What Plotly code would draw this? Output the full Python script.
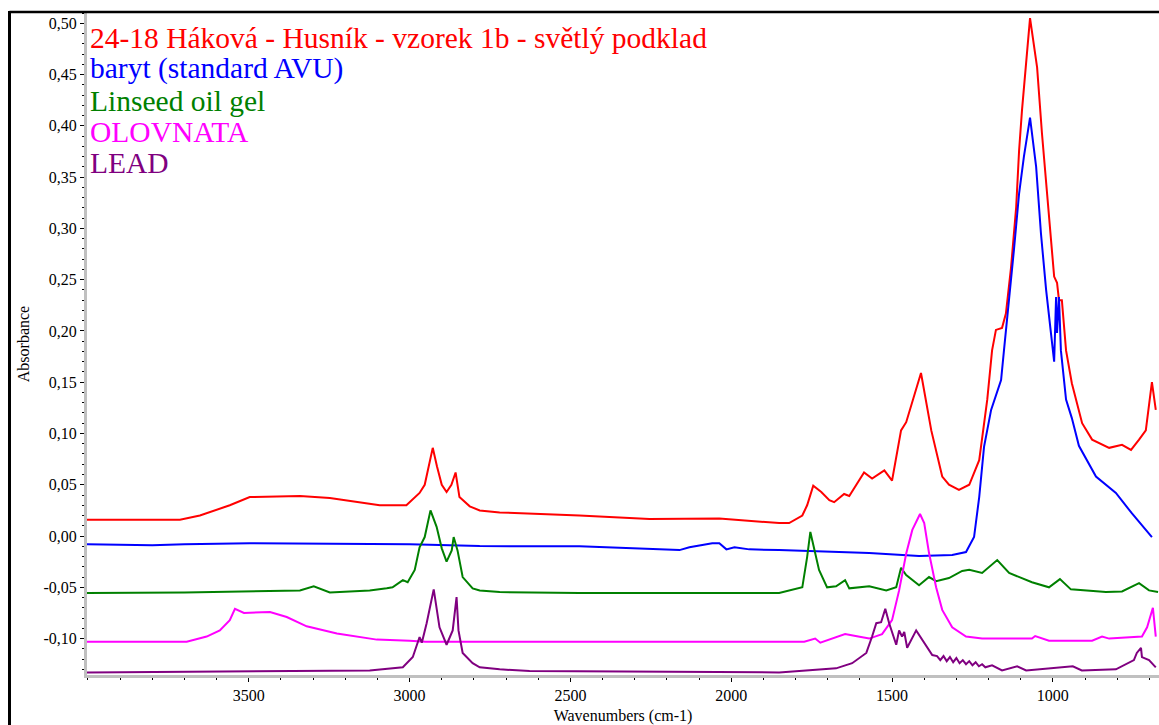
import plotly.graph_objects as go

# ---------------- data ----------------
red_wn = [4003, 3714, 3652, 3559, 3497, 3341, 3248, 3093, 3010, 2969, 2953, 2940, 2928, 2915, 2900,
          2885, 2870, 2857, 2845, 2813, 2782, 2720, 2472, 2254, 2037, 1851, 1820, 1779, 1764, 1745,
          1720, 1695, 1680, 1649, 1633, 1587, 1562, 1524, 1500, 1472, 1456, 1410, 1378, 1344, 1323,
          1292, 1260, 1229, 1204, 1189, 1177, 1158, 1146, 1130, 1114, 1105, 1096, 1071, 1049, 1034,
          1012, 996, 987, 981, 972, 959, 941, 909, 878, 825, 785, 757, 732, 711, 692, 680]
red_abs = [0.016, 0.016, 0.020, 0.030, 0.038, 0.039, 0.037, 0.030, 0.030, 0.042, 0.050, 0.070, 0.086, 0.068, 0.050,
           0.043, 0.050, 0.062, 0.038, 0.029, 0.025, 0.023, 0.020, 0.0166, 0.017, 0.0127, 0.0127, 0.020, 0.030, 0.049,
           0.043, 0.035, 0.033, 0.041, 0.039, 0.062, 0.056, 0.064, 0.054, 0.103, 0.111, 0.159, 0.103, 0.058, 0.050,
           0.045, 0.050, 0.074, 0.133, 0.181, 0.201, 0.203, 0.217, 0.262, 0.321, 0.376, 0.415, 0.505, 0.457, 0.393,
           0.311, 0.253, 0.247, 0.230, 0.230, 0.181, 0.149, 0.110, 0.094, 0.086, 0.089, 0.084, 0.094, 0.103, 0.150, 0.123]

blue_wn = [4003, 3800, 3700, 3497, 3000, 2782, 2472, 2161, 2130, 2059, 2037, 2015, 1990, 1944, 1851,
           1571, 1416, 1313, 1270, 1245, 1229, 1214, 1192, 1177, 1161, 1152, 1136, 1121, 1105, 1090,
           1071, 1052, 1037, 1021, 1006, 996, 990, 987, 981, 975, 959, 941, 919, 866, 804, 754, 692]
blue_abs = [-0.008, -0.009, -0.008, -0.007, -0.008, -0.0098, -0.010, -0.0137, -0.011, -0.007, -0.007, -0.013, -0.011, -0.013, -0.0137,
            -0.0166, -0.0195, -0.0185, -0.0156, -0.001, 0.038, 0.087, 0.123, 0.136, 0.152, 0.181, 0.230, 0.279, 0.334, 0.370,
            0.408, 0.360, 0.295, 0.240, 0.198, 0.170, 0.233, 0.198, 0.233, 0.181, 0.133, 0.115, 0.088, 0.058, 0.042, 0.022, -0.001]

green_wn = [4003, 3700, 3341, 3298, 3248, 3124, 3071, 3053, 3021, 3006, 2984, 2969, 2953, 2935, 2916,
            2900, 2885, 2869, 2863, 2851, 2835, 2804, 2782, 2720, 2472, 1851, 1779, 1764, 1754, 1742,
            1727, 1702, 1674, 1646, 1633, 1571, 1518, 1487, 1472, 1456, 1416, 1385, 1363, 1323, 1282,
            1260, 1220, 1173, 1136, 1065, 1012, 978, 944, 835, 785, 732, 701, 673]
green_abs = [-0.0556, -0.055, -0.053, -0.049, -0.055, -0.053, -0.051, -0.050, -0.043, -0.045, -0.033, -0.011, -0.001, 0.025, 0.009,
             -0.012, -0.025, -0.014, -0.001, -0.014, -0.040, -0.051, -0.053, -0.0546, -0.0556, -0.0556, -0.050, -0.0205, 0.004, -0.0137,
             -0.033, -0.050, -0.049, -0.043, -0.051, -0.049, -0.053, -0.050, -0.031, -0.038, -0.048, -0.040, -0.044, -0.041, -0.034,
             -0.033, -0.036, -0.0234, -0.036, -0.045, -0.050, -0.042, -0.052, -0.0546, -0.054, -0.046, -0.053, -0.0546]

mag_wn = [4003, 3693, 3631, 3590, 3559, 3543, 3515, 3434, 3382, 3320, 3226, 3102, 3000, 2950, 1773,
          1739, 1723, 1646, 1605, 1571, 1531, 1500, 1478, 1456, 1437, 1413, 1400, 1385, 1363, 1344,
          1313, 1282, 1270, 1220, 1065, 1055, 1012, 878, 847, 825, 723, 707, 689, 680]
mag_abs = [-0.103, -0.103, -0.098, -0.092, -0.082, -0.071, -0.075, -0.074, -0.079, -0.088, -0.095, -0.101, -0.102, -0.103, -0.103,
           -0.100, -0.104, -0.0956, -0.098, -0.100, -0.0956, -0.082, -0.053, -0.017, 0.006, 0.0215, 0.0127, -0.0166, -0.050, -0.072,
           -0.089, -0.0956, -0.098, -0.100, -0.100, -0.0975, -0.102, -0.102, -0.098, -0.100, -0.098, -0.089, -0.070, -0.098]

lead_wn = [4003, 3124, 3021, 2990, 2969, 2962, 2947, 2925, 2907, 2885, 2866, 2854, 2848, 2835, 2804,
           2782, 2720, 2627, 1851, 1674, 1624, 1580, 1562, 1549, 1534, 1521, 1509, 1487, 1478, 1469,
           1462, 1453, 1425, 1406, 1375, 1360, 1350, 1340, 1330, 1320, 1310, 1300, 1290, 1280, 1270,
           1260, 1250, 1240, 1230, 1220, 1210, 1189, 1158, 1111, 1083, 938, 910, 804, 748, 739,
           726, 723, 701, 680]
lead_abs = [-0.133, -0.131, -0.128, -0.118, -0.0985, -0.104, -0.085, -0.052, -0.089, -0.106, -0.092, -0.0595, -0.092, -0.114, -0.124,
            -0.128, -0.130, -0.1316, -0.133, -0.129, -0.124, -0.114, -0.098, -0.085, -0.084, -0.071, -0.085, -0.106, -0.092, -0.098,
            -0.0936, -0.109, -0.092, -0.101, -0.116, -0.117, -0.121, -0.117, -0.122, -0.118, -0.123, -0.119, -0.124, -0.121, -0.125,
            -0.122, -0.126, -0.123, -0.127, -0.125, -0.128, -0.126, -0.131, -0.127, -0.131, -0.127, -0.131, -0.130, -0.121, -0.114,
            -0.109, -0.118, -0.121, -0.128]

series_names = ["24-18 Háková - Husník - vzorek 1b - světlý podklad", "baryt (standard AVU)",
                "Linseed oil gel", "OLOVNATA", "LEAD"]
series_colors = ["#ff0000", "#0000ff", "#008000", "#ff00ff", "#800080"]

y_tick_vals = [-0.10, -0.05, 0.00, 0.05, 0.10, 0.15, 0.20, 0.25, 0.30, 0.35, 0.40, 0.45, 0.50]
y_tick_text = ["-0,10", "-0,05", "0,00", "0,05", "0,10", "0,15", "0,20", "0,25", "0,30", "0,35", "0,40", "0,45", "0,50"]
x_tick_vals = [3500, 3000, 2500, 2000, 1500, 1000]
x_tick_text = ["3500", "3000", "2500", "2000", "1500", "1000"]

# ---------------- figure ----------------
W, H = 1159, 725
ML, MR, MT, MB = 87, 0, 13, 50
PW, PH = W - ML - MR, H - MT - MB

def px_x(p):  # page pixel -> paper x
    return (p - ML) / PW

def px_y(p):  # page pixel -> paper y
    return (H - MB - p) / PH

fig = go.Figure()
all_series = [(red_wn, red_abs), (blue_wn, blue_abs), (green_wn, green_abs), (mag_wn, mag_abs), (lead_wn, lead_abs)]
for (xs, ys), name, col in zip(all_series, series_names, series_colors):
    fig.add_trace(go.Scatter(x=xs, y=ys, mode="lines", name=name,
                             line=dict(color=col, width=2), showlegend=False))

serif = "Liberation Serif, Times New Roman, serif"
label_centers = [38, 69, 101, 132, 163]
for name, col, yc in zip(series_names, series_colors, label_centers):
    fig.add_annotation(text=name, xref="paper", yref="paper", x=px_x(89), y=px_y(yc),
                       xanchor="left", yanchor="middle", showarrow=False,
                       font=dict(family=serif, size=29.5, color=col), borderpad=0)

# frame lines (left and top black border)
fig.add_shape(type="line", xref="paper", yref="paper", x0=px_x(9.5), x1=px_x(1170),
              y0=px_y(12), y1=px_y(12), line=dict(color="black", width=2.5))
fig.add_shape(type="line", xref="paper", yref="paper", x0=px_x(9.5), x1=px_x(9.5),
              y0=px_y(11), y1=px_y(740), line=dict(color="black", width=3))

fig.update_layout(
    width=W, height=H,
    margin=dict(l=ML, r=MR, t=MT, b=MB, pad=0),
    paper_bgcolor="white", plot_bgcolor="white",
    font=dict(family=serif, size=16, color="black"),
)
fig.update_xaxes(range=[4003, 670], showgrid=False, zeroline=False,
                 showline=True, linecolor="#c0c0c0", linewidth=3,
                 tickvals=x_tick_vals, ticktext=x_tick_text,
                 ticks="outside", ticklen=4, tickcolor="black", tickwidth=1,
                 minor=dict(dtick=100, ticks="outside", ticklen=2, tickcolor="black"),
                 tickfont=dict(family=serif, size=16),
                 title=dict(text="Wavenumbers (cm-1)", font=dict(family=serif, size=16), standoff=8))
fig.update_yaxes(range=[-0.1355, 0.510], showgrid=False, zeroline=False,
                 showline=True, linecolor="#c0c0c0", linewidth=3,
                 tickvals=y_tick_vals, ticktext=y_tick_text,
                 ticks="outside", ticklen=4, tickcolor="black", tickwidth=1,
                 minor=dict(dtick=0.01, ticks="outside", ticklen=2, tickcolor="black"),
                 tickfont=dict(family=serif, size=16),
                 title=dict(text="Absorbance", font=dict(family=serif, size=16), standoff=10))

fig.write_html("out.html", config={"displayModeBar": False},
               post_script="document.body.style.margin='0';document.body.style.overflow='hidden';")
